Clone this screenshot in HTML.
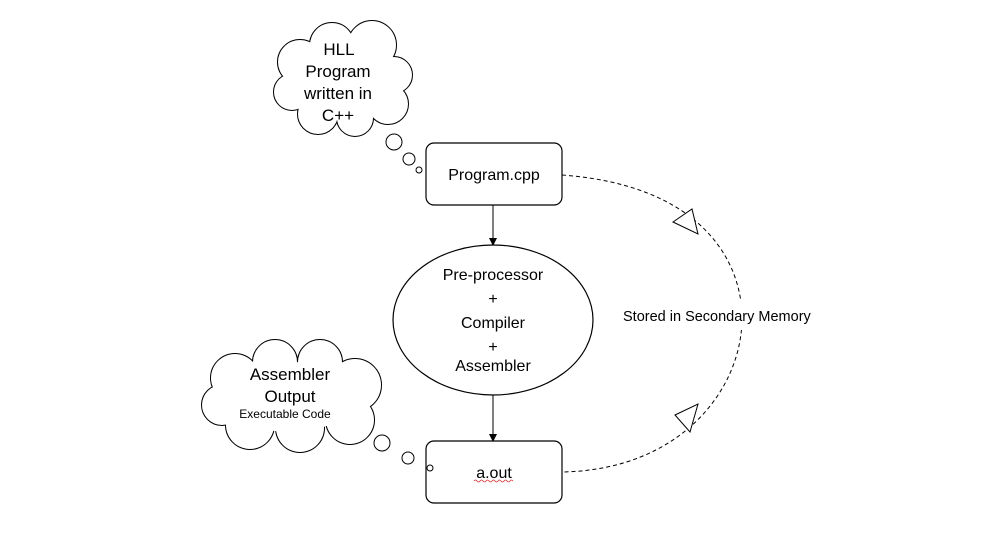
<!DOCTYPE html>
<html><head><meta charset="utf-8"><style>
body{margin:0;background:#fff}
svg text{font-family:"Liberation Sans",sans-serif;fill:#000}
</style></head><body>
<svg width="986" height="552" viewBox="0 0 986 552" xmlns="http://www.w3.org/2000/svg">
<defs>
<marker id="a" markerWidth="8" markerHeight="8" refX="7" refY="4" orient="auto" markerUnits="userSpaceOnUse"><path d="M0,0 L8,4 L0,8 Z" fill="#000"/></marker>
</defs>
<g stroke="#000" stroke-width="2" fill="none">
<circle cx="300" cy="62" r="22"/><circle cx="332" cy="45" r="22"/><circle cx="372" cy="45" r="24"/><circle cx="394" cy="75" r="18"/><circle cx="388" cy="104" r="20"/><circle cx="355" cy="118" r="18"/><circle cx="318" cy="114" r="20"/><circle cx="292" cy="92" r="18"/>
</g>
<g fill="#fff">
<circle cx="300" cy="62" r="22"/><circle cx="332" cy="45" r="22"/><circle cx="372" cy="45" r="24"/><circle cx="394" cy="75" r="18"/><circle cx="388" cy="104" r="20"/><circle cx="355" cy="118" r="18"/><circle cx="318" cy="114" r="20"/><circle cx="292" cy="92" r="18"/><ellipse cx="342" cy="80" rx="50" ry="40"/>
</g>
<g stroke="#000" stroke-width="2" fill="none">
<circle cx="235" cy="378" r="24"/><circle cx="275" cy="362" r="22"/><circle cx="320" cy="362" r="22"/><circle cx="355" cy="385" r="26"/><circle cx="350" cy="420" r="24"/><circle cx="300" cy="428" r="24"/><circle cx="250" cy="425" r="24"/><circle cx="222" cy="405" r="20"/>
</g>
<g fill="#fff">
<circle cx="235" cy="378" r="24"/><circle cx="275" cy="362" r="22"/><circle cx="320" cy="362" r="22"/><circle cx="355" cy="385" r="26"/><circle cx="350" cy="420" r="24"/><circle cx="300" cy="428" r="24"/><circle cx="250" cy="425" r="24"/><circle cx="222" cy="405" r="20"/><ellipse cx="290" cy="397" rx="65" ry="35"/>
</g>
<text font-size="17" text-anchor="middle"><tspan x="339" y="55">HLL</tspan><tspan x="338" y="77">Program</tspan><tspan x="338" y="99">written in</tspan><tspan x="338" y="121">C++</tspan></text>
<text font-size="17" text-anchor="middle"><tspan x="290" y="380">Assembler</tspan><tspan x="290" y="402">Output</tspan></text>
<text font-size="12" text-anchor="middle" x="285" y="418">Executable Code</text>
<path d="M562,175 C700,185 742,260 742,318 C742,390 680,470 562,472" fill="none" stroke="#000" stroke-dasharray="4,3"/>
<path d="M673,222 L692,209 L698,234 Z" fill="#fff" stroke="#000"/>
<path d="M675,415 L698,404 L690,432 Z" fill="#fff" stroke="#000"/>
<rect x="620" y="300" width="200" height="30" fill="#fff"/>
<text font-size="14.5" x="623" y="321">Stored in Secondary Memory</text>
<rect x="426" y="143" width="136" height="62" rx="8" fill="#fff" stroke="#000" stroke-width="1.2"/>
<rect x="426" y="441" width="136" height="62" rx="8" fill="#fff" stroke="#000" stroke-width="1.2"/>
<g stroke="#000" stroke-width="1" fill="#fff">
<circle cx="394" cy="142" r="8"/><circle cx="409" cy="159" r="6"/><circle cx="419" cy="170" r="3"/>
<circle cx="382" cy="443" r="8"/><circle cx="408" cy="458" r="6"/><circle cx="430" cy="468" r="3"/>
</g>
<text font-size="16" text-anchor="middle" x="494" y="180">Program.cpp</text>
<text font-size="16" text-anchor="middle" x="494" y="478">a.out</text>
<path d="M474,481 q1.5,-2 3,0 t3,0 t3,0 t3,0 t3,0 t3,0 t3,0 t3,0 t3,0 t3,0 t3,0 t3,0 t3,0" stroke="#d33" stroke-width="0.8" fill="none"/>
<ellipse cx="493" cy="320" rx="100" ry="75" fill="#fff" stroke="#000" stroke-width="1.2"/>
<text font-size="16" text-anchor="middle"><tspan x="493" y="280">Pre-processor</tspan><tspan x="493" y="304">+</tspan><tspan x="493" y="328">Compiler</tspan><tspan x="493" y="352">+</tspan><tspan x="493" y="371">Assembler</tspan></text>
<line x1="493" y1="205" x2="493" y2="245" stroke="#000" marker-end="url(#a)"/>
<line x1="493" y1="395" x2="493" y2="441" stroke="#000" marker-end="url(#a)"/>
</svg>
</body></html>
